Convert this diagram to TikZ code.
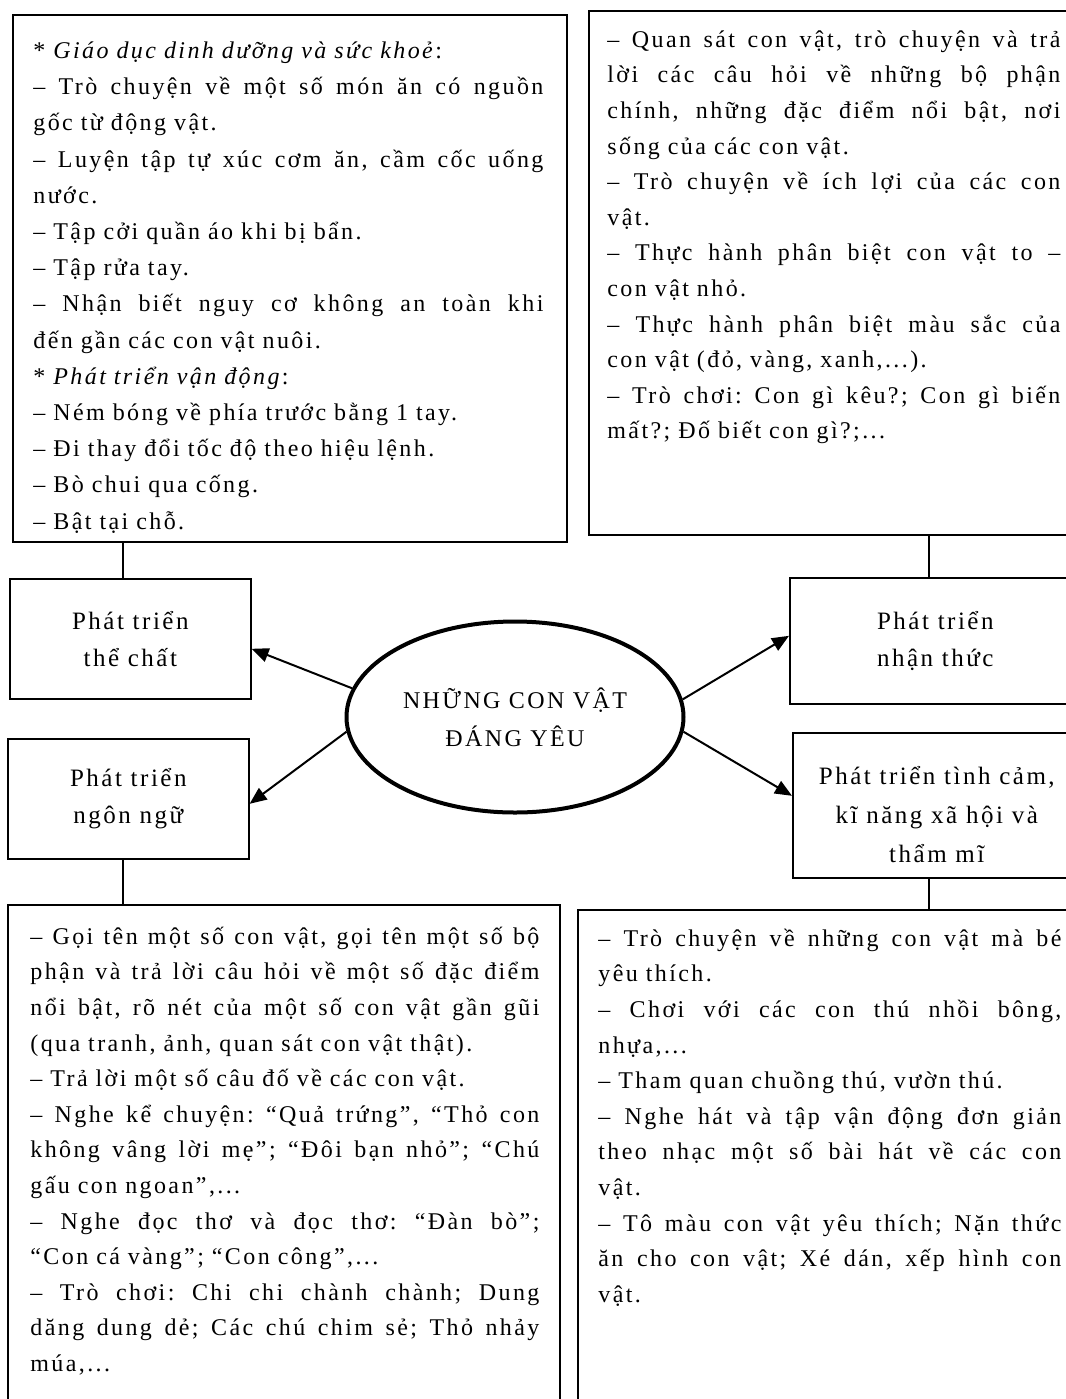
\documentclass[tikz,border=0pt]{standalone}
\usepackage{fontspec}
\setmainfont{Liberation Serif}[LetterSpace=10]
\usetikzlibrary{arrows.meta,shapes.geometric}
\def\jlword#1 #2\jlstop{#1\ifx\relax#2\relax\else\hfill\jlword#2\jlstop\fi}
\newcommand{\jl}[1]{\makebox[\hsize][s]{\jlword#1 \jlstop}}
\tikzset{
  ar/.style={-{Triangle[length=8.5pt,width=7pt]},line width=1pt},
  ln/.style={line width=0.8pt},
  box/.style={draw,line width=0.8pt,rectangle,anchor=north west,inner sep=0pt},
  lbl/.style={box,align=center,font=\fontsize{12.5}{18.5}\selectfont},
  txt/.style={anchor=north west,inner sep=0pt,align=left,font=\fontsize{12}{17.8}\selectfont},
  oval/.style={ellipse,draw,line width=2pt,align=center,inner sep=0pt,minimum width=168.5pt,minimum height=95.5pt,font=\fontsize{12}{19}\selectfont}
}

\begin{document}
\begin{tikzpicture}[x=0.5pt,y=-0.5pt]
\useasboundingbox (0,0) rectangle (1066,1399);
\clip (0,0) rectangle (1066,1399);

\node[box,minimum width=277pt,minimum height=263.5pt] (dsthechat) at (12,14) {};
\node[box,minimum width=246pt,minimum height=262pt] (dsnhanthuc) at (588,10) {};
\node[box,minimum width=276pt,minimum height=258pt] (dsngonngu) at (7,904) {};
\node[box,minimum width=251.5pt,minimum height=255.5pt] (dstinhcam) at (577,909) {};

\node[lbl,minimum width=120.5pt,minimum height=60pt] (thechat) at (9,578) {Phát triển\\thể chất};
\node[lbl,minimum width=120.5pt,minimum height=60pt] (ngonngu) at (7,738) {Phát triển\\ngôn ngữ};
\node[lbl,minimum width=145.5pt,minimum height=63pt] (nhanthuc) at (789,577) {Phát triển\\nhận thức};
\node[lbl,minimum width=144pt,minimum height=72.5pt,font=\fontsize{12.5}{19.5}\selectfont] (tinhcam) at (792,732) {\rule{0pt}{18.5pt}Phát triển tình cảm,\\kĩ năng xã hội và\\thẩm mĩ};

\node[oval] (convat) at (515,717) {NHỮNG CON VẬT\\ĐÁNG YÊU};

\node[txt,text width=255pt,font=\fontsize{12}{18.1}\selectfont] (txtthechat) at (33,32.7) {\strut{*} \textit{Giáo dục dinh dưỡng và sức khoẻ}:\\
\jl{– Trò chuyện về một số món ăn có nguồn}\\
gốc từ động vật.\\
\jl{– Luyện tập tự xúc cơm ăn, cầm cốc uống}\\
nước.\\
– Tập cởi quần áo khi bị bẩn.\\
– Tập rửa tay.\\
\jl{– Nhận biết nguy cơ không an toàn khi}\\
đến gần các con vật nuôi.\\
{*} \textit{Phát triển vận động}:\\
– Ném bóng về phía trước bằng 1 tay.\\
– Đi thay đổi tốc độ theo hiệu lệnh.\\
– Bò chui qua cống.\\
– Bật tại chỗ.};

\node[txt,text width=226.5pt] (txtnhanthuc) at (607,22) {\strut\jl{– Quan sát con vật, trò chuyện và trả}\\
\jl{lời các câu hỏi về những bộ phận}\\
\jl{chính, những đặc điểm nổi bật, nơi}\\
sống của các con vật.\\
\jl{– Trò chuyện về ích lợi của các con}\\
vật.\\
\jl{– Thực hành phân biệt con vật to –}\\
con vật nhỏ.\\
\jl{– Thực hành phân biệt màu sắc của}\\
con vật (đỏ, vàng, xanh,...).\\
\jl{– Trò chơi: Con gì kêu?; Con gì biến}\\
mất?; Đố biết con gì?;...};

\node[txt,text width=254.5pt] (txtngonngu) at (30,919) {\strut\jl{– Gọi tên một số con vật, gọi tên một số bộ}\\
\jl{phận và trả lời câu hỏi về một số đặc điểm}\\
\jl{nổi bật, rõ nét của một số con vật gần gũi}\\
(qua tranh, ảnh, quan sát con vật thật).\\
– Trả lời một số câu đố về các con vật.\\
\jl{– Nghe kể chuyện: “Quả trứng”, “Thỏ con}\\
\jl{không vâng lời mẹ”; “Đôi bạn nhỏ”; “Chú}\\
gấu con ngoan”,...\\
\jl{– Nghe đọc thơ và đọc thơ: “Đàn bò”;}\\
“Con cá vàng”; “Con công”,...\\
\jl{– Trò chơi: Chi chi chành chành; Dung}\\
\jl{dăng dung dẻ; Các chú chim sẻ; Thỏ nhảy}\\
múa,...};

\node[txt,text width=231.5pt] (txttinhcam) at (598,921) {\strut\jl{– Trò chuyện về những con vật mà bé}\\
yêu thích.\\
\jl{– Chơi với các con thú nhồi bông,}\\
nhựa,...\\
– Tham quan chuồng thú, vườn thú.\\
\jl{– Nghe hát và tập vận động đơn giản}\\
\jl{theo nhạc một số bài hát về các con}\\
vật.\\
\jl{– Tô màu con vật yêu thích; Nặn thức}\\
\jl{ăn cho con vật; Xé dán, xếp hình con}\\
vật.};

\draw[ln] ([xshift=-3.75pt]thechat.north) -- ([xshift=-3.75pt]thechat.north |- dsthechat.south);
\draw[ln] ([xshift=-2.75pt]ngonngu.south) -- ([xshift=-2.75pt]ngonngu.south |- dsngonngu.north);
\draw[ln] ([xshift=-3.25pt]nhanthuc.north) -- ([xshift=-3.25pt]nhanthuc.north |- dsnhanthuc.south);
\draw[ln] ([xshift=-4pt]tinhcam.south) -- ([xshift=-4pt]tinhcam.south |- dstinhcam.north);

\draw[ar] (convat.170.6) -- ([yshift=-5pt]thechat.east);
\draw[ar] (convat.185.5) -- ([yshift=-2.5pt]ngonngu.east);
\draw[ar] (convat.6.5) -- ([yshift=2.5pt]nhanthuc.west);
\draw[ar] (convat.-5) -- ([yshift=4.75pt]tinhcam.west);
\end{tikzpicture}
\end{document}
